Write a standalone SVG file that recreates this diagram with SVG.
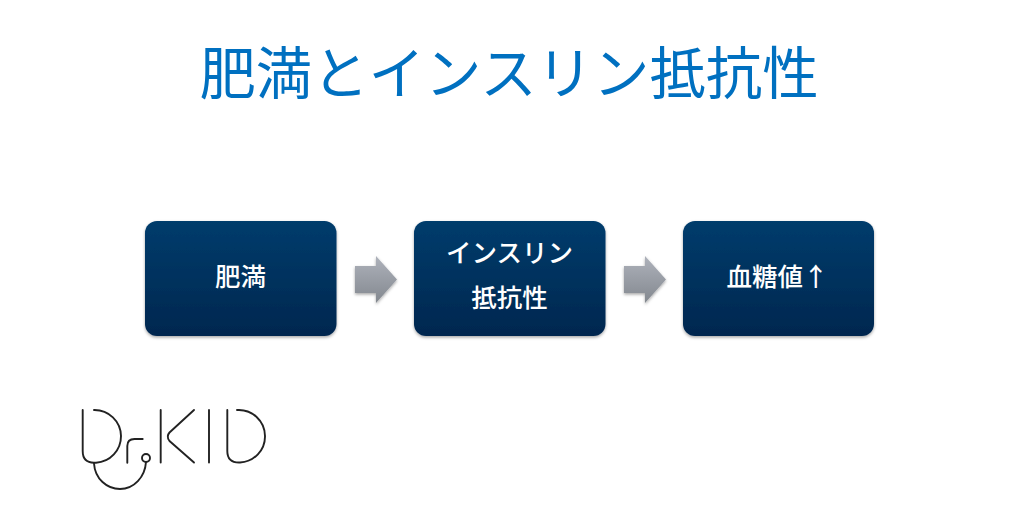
<svg xmlns="http://www.w3.org/2000/svg" width="1024" height="531" viewBox="0 0 1024 531">
<style>
text{font-family:"Noto Sans CJK JP","Noto Sans",sans-serif;text-anchor:middle}
.box{fill:url(#boxFill);filter:url(#soft)}
.lbl{fill:#fff;font-size:25.500px;font-weight:500}
.arrow{fill:url(#arrowFill);filter:url(#soft)}
.logo{fill:none;stroke:#222;stroke-width:1.900;stroke-linecap:round;stroke-linejoin:round}
</style>
<defs>
<linearGradient id="boxFill" x1="0" y1="0" x2="0" y2="1"><stop offset="0" stop-color="#013c6c"/><stop offset="1" stop-color="#00274f"/></linearGradient>
<linearGradient id="arrowFill" x1="0" y1="0" x2="0" y2="1"><stop offset="0" stop-color="#aeb2bb"/><stop offset="1" stop-color="#83888f"/></linearGradient>
<filter id="soft" x="-10%" y="-10%" width="120%" height="125%"><feDropShadow dx="0" dy="1.500" stdDeviation="1.800" flood-color="#000" flood-opacity=".35"/></filter>
</defs>
<rect width="1024" height="531" fill="#fff"/>
<text id="title" x="509" y="94" font-size="56.400" fill="#0070c0">肥満とインスリン抵抗性</text>
<g id="node-obesity"><rect class="box" x="145" y="221" width="191.500" height="115" rx="12"/><text class="lbl" x="240.500" y="286">肥満</text></g>
<g id="node-resistance"><rect class="box" x="414" y="221" width="191.500" height="115" rx="12"/><text class="lbl" x="509.500" y="262">インスリン</text><text class="lbl" x="509.500" y="307">抵抗性</text></g>
<g id="node-glucose"><rect class="box" x="683" y="221" width="191" height="115" rx="12"/><text class="lbl" x="777.500" y="286">血糖値↑</text></g>
<g id="connectors">
<path class="arrow" d="M355 266H376V256L397 279.500 376 303V293H355Z"/>
<path class="arrow" d="M624 266H645V256L666 279.500 645 303V293H624Z"/>
</g>
<g id="logo" class="logo">
<!-- D with its stem detached from the bowl -->
<path d="M82.700 410V451Q82.700 462.700 94 462.700H96A26.500 26.500 0 0 0 121 436 26.500 26.500 0 0 0 94 410"/>
<path d="M127.300 462.700V446Q127.300 439 134.500 439H142.700"/>
<!-- stethoscope tube and chest piece -->
<path d="M94 463.500C95 479 107 489 120 489 134 489 145 477 146 462"/>
<circle cx="146" cy="458" r="4"/>
<path d="M160.700 410V462.500"/>
<path d="M194 410L169.500 432.500Q166 436.500 169.500 441L194 462.500"/>
<path d="M209 410V462.500"/>
<path d="M227.300 410V451Q227.300 462.500 239 462.500H240A26.200 26.200 0 0 0 265 436 26.200 26.200 0 0 0 237 410"/>
</g>
</svg>
